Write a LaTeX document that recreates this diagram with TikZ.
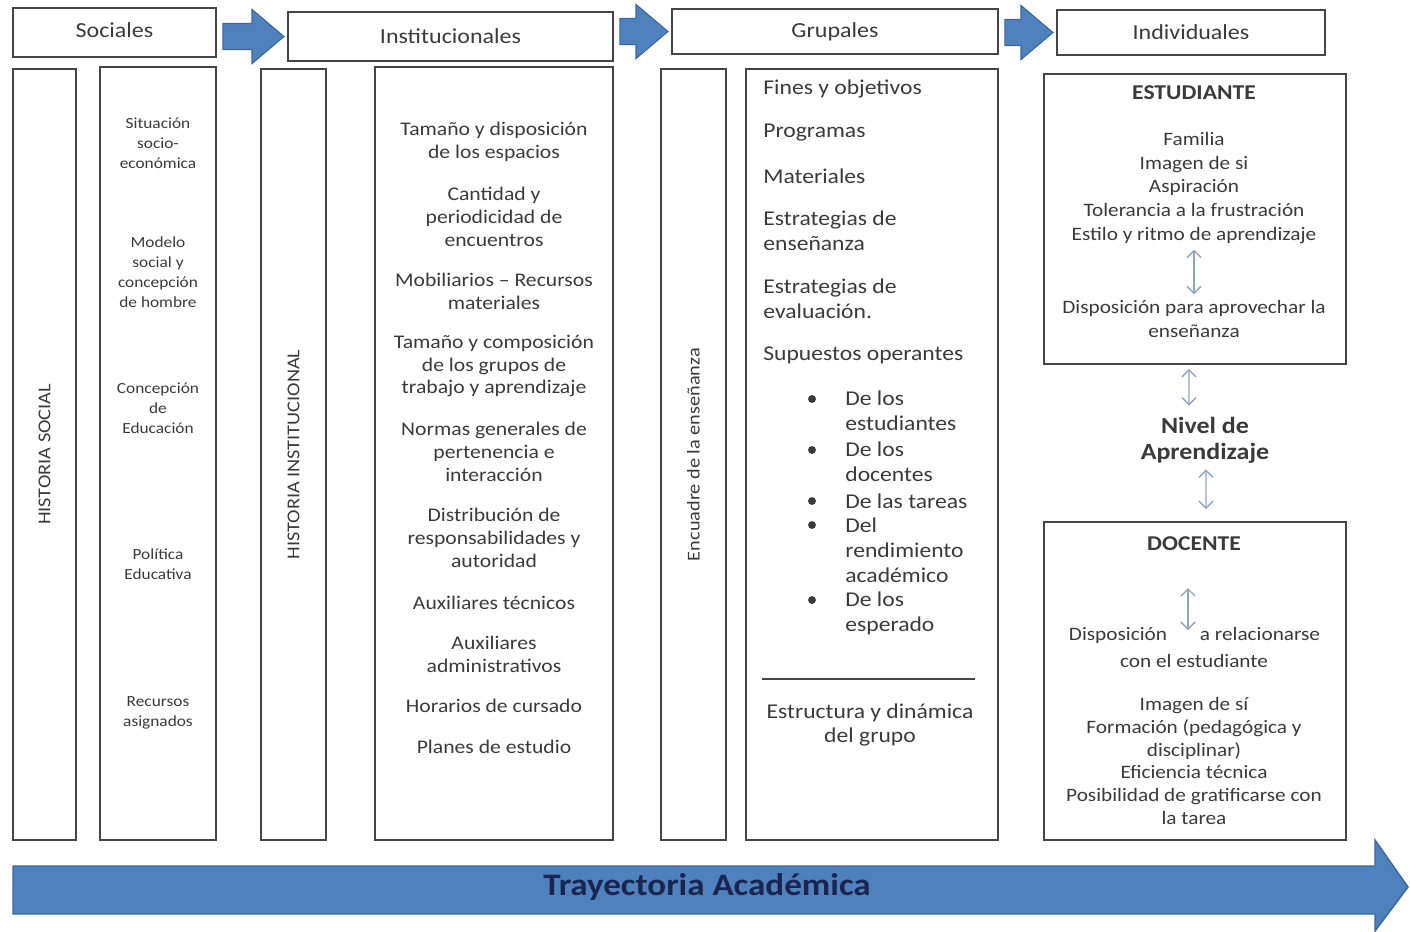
\documentclass[tikz,border=0pt]{standalone}
\usepackage{fontspec}
\setmainfont{Carlito}[FakeStretch=1.12]
\usetikzlibrary{arrows.meta,calc}

\definecolor{arrowblue}{HTML}{4F81BD}
\definecolor{arrowedge}{HTML}{3A679E}
\definecolor{inkgray}{HTML}{3A3A3A}
\definecolor{boxgray}{HTML}{454545}
\definecolor{linkblue}{HTML}{8DA6BF}
\definecolor{navy}{HTML}{1A2550}

\tikzset{
  box/.style={draw=boxgray, line width=1pt, inner sep=0pt},
  hdr/.style={box, font=\fontsize{12.2}{14}\selectfont},
  colbox/.style={box, rotate=90, font=\fontsize{10.3}{12}\selectfont},
  small/.style={align=center, font=\fontsize{8.8}{11.4}\selectfont},
  inst/.style={align=center, font=\fontsize{11}{13}\selectfont},
  grp/.style={anchor=west, align=left, inner sep=0pt, font=\fontsize{12}{14.2}\selectfont},
  ind/.style={align=center, font=\fontsize{10.8}{13.4}\selectfont},
  title/.style={font=\bfseries\fontsize{12}{13}\selectfont},
  dot/.style={circle, fill=inkgray, inner sep=0pt, minimum size=4.5pt},
  link/.style={draw=linkblue, line width=0.8pt, >={Straight Barb[length=4pt,width=8pt]}, <->},
  hdrarrow/.style={fill=arrowblue, draw=arrowedge, line width=0.6pt,
    to path={let \p1=(\tikztostart), \p2=(\tikztotarget) in
      (\x1+3.4pt,\y2+7.4pt) -- (\x2-20pt,\y2+7.4pt) -- (\x2-20pt,\y2+15.4pt) -- (\x2-1.8pt,\y2)
      -- (\x2-20pt,\y2-15.4pt) -- (\x2-20pt,\y2-7.4pt) -- (\x1+3.4pt,\y2-7.4pt) -- cycle}}
}

\begin{document}
\begin{tikzpicture}[x=0.02cm, y=-0.02cm, text=inkgray]
\useasboundingbox (0,0) rectangle (1410,931);

% header row
\node[hdr, minimum width=4.06cm, minimum height=0.98cm] (soc) at (114.5,32.5) {\raisebox{3pt}{Sociales}};
\node[hdr, minimum width=6.5cm, minimum height=0.98cm] (inst) at (450.5,36.5) {Institucionales};
\node[hdr, minimum width=6.52cm, minimum height=0.9cm] (grp) at (835,31.5) {Grupales};
\node[hdr, minimum width=5.36cm, minimum height=0.9cm] (ind) at (1191,32.5) {Individuales};

\path[hdrarrow] (soc.east) to (inst.west);
\path[hdrarrow] (inst.east) to (grp.west);
\path[hdrarrow] (grp.east) to (ind.west);

% columns
\node[colbox, minimum width=15.42cm, minimum height=1.26cm] (histsoc) at (44.5,454.5) {HISTORIA SOCIAL};
\node[box, minimum width=2.32cm, minimum height=15.46cm] (socbox) at (158,453.5) {};
\node[colbox, minimum width=15.42cm, minimum height=1.3cm] (histinst) at (293.5,454.5) {HISTORIA INSTITUCIONAL};
\node[box, minimum width=4.76cm, minimum height=15.46cm] (instbox) at (494,453.5) {};
\node[colbox, minimum width=15.42cm, minimum height=1.3cm] (encuadre) at (693.5,454.5) {Encuadre de la enseñanza};
\node[box, minimum width=5.04cm, minimum height=15.42cm] (grpbox) at (872,454.5) {};

% sociales
\node[small] (s1) at (158,143) {Situación\\socio-\\económica};
\node[small] (s2) at (158,272.5) {Modelo\\social y\\concepción\\de hombre};
\node[small] (s3) at (158,408.5) {Concepción\\de\\Educación};
\node[small] (s4) at (158,564.5) {Política\\Educativa};
\node[small] (s5) at (158,712.5) {Recursos\\asignados};

% institucionales
\node[inst] (i1) at (494,142) {Tamaño y disposición\\de los espacios};
\node[inst] (i2) at (494,217) {Cantidad y\\periodicidad de\\encuentros};
\node[inst] (i3) at (494,291) {Mobiliarios -- Recursos\\materiales};
\node[inst] (i4) at (494,366) {Tamaño y composición\\de los grupos de\\trabajo y aprendizaje};
\node[inst] (i5) at (494,452) {Normas generales de\\pertenencia e\\interacción};
\node[inst] (i6) at (494,538) {Distribución de\\responsabilidades y\\autoridad};
\node[inst] (i7) at (494,603) {Auxiliares técnicos};
\node[inst] (i8) at (494,654) {Auxiliares\\administrativos};
\node[inst] (i9) at (494,706) {Horarios de cursado};
\node[inst] (i10) at (494,747) {Planes de estudio};

% grupales
\node[grp] (g1) at (763,89) {Fines y objetivos};
\node[grp] (g2) at (763,133) {Programas};
\node[grp] (g3) at (763,176) {Materiales};
\node[grp] (g4) at (763,230.5) {Estrategias de\\enseñanza};
\node[grp] (g5) at (763,299) {Estrategias de\\evaluación.};
\node[grp] (g6) at (763,355) {Supuestos operantes};
\node[grp] (b1) at (845,411) {De los\\estudiantes};
\node[grp] (b2) at (845,462) {De los\\docentes};
\node[grp] (b3) at (845,501) {De las tareas};
\node[grp] (b4) at (845,550) {Del\\rendimiento\\académico};
\node[grp] (b5) at (845,613) {De los\\esperado};
\foreach \y [count=\k] in {399,450,501,525,600}
  \node[dot] (bl\k) at (812,\y) {};
\coordinate (hr1) at (762,679);
\coordinate (hr2) at (975,679);
\draw[boxgray, line width=0.8pt] (hr1) -- (hr2);
\node[grp, anchor=center, align=center] (g7) at (870,725) {Estructura y dinámica\\del grupo};

% individuales
\node[box, minimum width=6.04cm, minimum height=5.8cm] (est) at (1195,219) {};
\node[title] (esttitle) at (1194,93) {ESTUDIANTE};
\node[ind] (e1) at (1194,188) {Familia\\Imagen de si\\Aspiración\\Tolerancia a la frustración\\Estilo y ritmo de aprendizaje};
\node[ind] (e2) at (1194,319) {Disposición para aprovechar la\\enseñanza};
\draw[link] (e1) -- (e2);

\node[align=center, font=\bfseries\fontsize{13.2}{14.8}\selectfont] (nivel) at (1205,440) {Nivel de\\Aprendizaje};
\draw[link] ([xshift=-0.12cm,yshift=-0.08cm]est.south) -- ([xshift=-0.32cm,yshift=0.1cm]nivel.north);

\node[box, minimum width=6.04cm, minimum height=6.36cm] (doc) at (1195,681) {};
\draw[link] ([xshift=0.02cm]nivel.south) -- ([xshift=0.22cm,yshift=0.24cm]doc.north);
\node[title] (doctitle) at (1194,544) {DOCENTE};
\coordinate (dtop) at (1188,588);
\coordinate (dbot) at (1188,630);
\draw[link] (dtop) -- (dbot);
\node[ind, anchor=base] (d1) at (1118,640) {Disposición};
\node[ind, anchor=base] (d2) at (1260,640) {a relacionarse};
\node[ind] (d3) at (1194,661) {con el estudiante};
\node[ind, font=\fontsize{10.8}{13}\selectfont] (d4) at (1194,761) {Imagen de sí\\Formación (pedagógica y\\disciplinar)\\Eficiencia técnica\\Posibilidad de gratificarse con\\la tarea};

% trayectoria
\filldraw[fill=arrowblue, draw=arrowedge, line width=0.8pt]
  (13,866) -- (1375,866) -- (1375,840) -- (1408,887) -- (1375,931) -- (1375,914) -- (13,914) -- cycle;
\node[text=navy, font=\bfseries\fontsize{17.8}{20}\selectfont] (tray) at (707,887) {Trayectoria Académica};
\end{tikzpicture}
\end{document}
